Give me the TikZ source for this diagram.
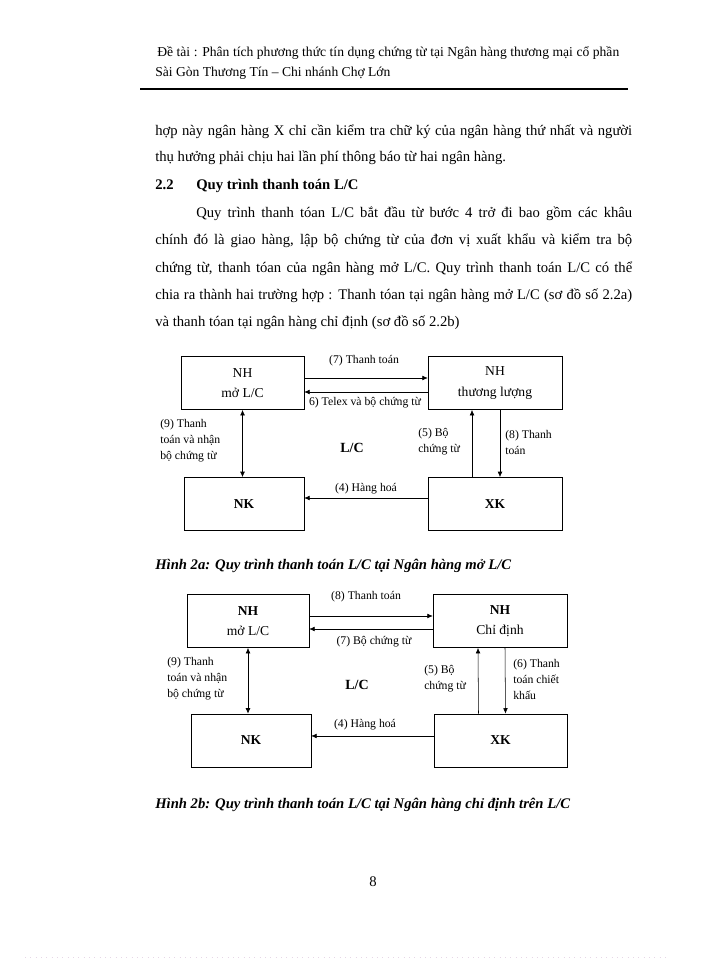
\documentclass[tikz,border=0pt]{standalone}
\usepackage{fontspec}
\setmainfont{Liberation Serif}
\usepackage{tikz}
\usetikzlibrary{arrows.meta,positioning}
\definecolor{PDot}{HTML}{E6D6E6}
\newcommand\fillline[2][357.75pt]{\makebox[#1][s]{#2}}

\begin{document}
\begin{tikzpicture}[x=0.75pt,y=-0.75pt,
  txt/.style={anchor=base west,inner sep=0pt,font=\fontsize{11}{13}\selectfont},
  hdr/.style={anchor=base west,inner sep=0pt,font=\fontsize{10.2}{12}\selectfont},
  box/.style={draw,thin,minimum height=40pt,align=center,
    font=\fontsize{10.2}{15.5}\selectfont},
  lbl/.style={inner sep=0pt,font=\fontsize{8.8}{12}\selectfont},
  side/.style={lbl,align=left,anchor=west},
  figcap/.style={txt,font=\fontsize{11}{13}\selectfont\bfseries\itshape},
  a/.style={-{Latex[length=4pt,width=3.5pt]},thin},
  ab/.style={{Latex[length=4pt,width=3.5pt]}-{Latex[length=4pt,width=3.5pt]},thin}
]
  \useasboundingbox (0,0) rectangle (700,960);
  \node[hdr] (h1) at (157,56) {\fillline[346.5pt]{Đề tài : Phân tích phương thức tín dụng chứng từ tại Ngân hàng thương mại cổ phần}};
  \node[hdr] (h2) at (155,76) {Sài Gòn Thương Tín – Chi nhánh Chợ Lớn};
  \draw[line width=0.8pt] (140,89) -- (628,89);

  \node[txt] (p1) at (155,135) {\fillline{hợp này ngân hàng X chỉ cần kiểm tra chữ ký của ngân hàng thứ nhất và người}};
  \node[txt] (p2) at (155,161) {thụ hưởng phải chịu hai lần phí thông báo từ hai ngân hàng.};
  \node[txt,font=\fontsize{11}{13}\selectfont\bfseries] (s1) at (155,189) {2.2};
  \node[txt,font=\fontsize{11}{13}\selectfont\bfseries] (s2) at (196,189) {Quy trình thanh toán L/C};
  \node[txt] (p3) at (196,217) {\fillline[327pt]{Quy trình thanh tóan L/C bắt đầu từ bước 4 trở đi bao gồm các khâu}};
  \node[txt] (p4) at (155,244) {\fillline{chính đó là giao hàng, lập bộ chứng từ của đơn vị xuất khẩu và kiểm tra bộ}};
  \node[txt] (p5) at (155,272) {\fillline{chứng từ, thanh tóan của ngân hàng mở L/C. Quy trình thanh toán L/C có thể}};
  \node[txt] (p6) at (155,299) {\fillline{chia ra thành hai trường hợp : Thanh tóan tại ngân hàng mở L/C (sơ đồ số 2.2a)}};
  \node[txt] (p7) at (155,326) {và thanh tóan tại ngân hàng chỉ định (sơ đồ số 2.2b)};

  % so do 2.2a
  \node[box,minimum width=92.25pt] (moA) at (242.5,383) {NH\\mở L/C};
  \node[box,minimum width=100.5pt] (tlA) at (495,383) {NH\\thương lượng};
  \node[box,minimum width=90pt] (nkA) at (244,504) {\bfseries NK};
  \node[box,minimum width=100.5pt] (xkA) at (495,504) {\bfseries XK};
  \draw[a] ([yshift=3.75pt]moA.east) -- ([yshift=3.75pt]tlA.west);
  \draw[a] ([yshift=-6.75pt]tlA.west) -- ([yshift=-6.75pt]moA.east);
  \draw[a] ([yshift=4.5pt]xkA.west) -- ([yshift=4.5pt]nkA.east);
  \draw[ab] (moA.south) -- (moA.south |- nkA.north);
  \draw[a] ([xshift=-17.25pt]xkA.north) -- ([xshift=-17.25pt]tlA.south);
  \draw[a] ([xshift=3.75pt]tlA.south) -- ([xshift=3.75pt]xkA.north);
  \node[lbl] (l7A) at (364,361) {(7) Thanh toán};
  \node[lbl] (l6A) at (365,403) {6) Telex và bộ chứng từ};
  \node[lbl] (l4A) at (366,489) {(4) Hàng hoá};
  \node[side] (l9A) at (160,441) {(9) Thanh\\toán và nhận\\bộ chứng từ};
  \node[side] (l5A) at (418,442) {(5) Bộ\\chứng từ};
  \node[side] (l8A) at (505,442) {(8) Thanh\\toán};
  \node[lbl,font=\fontsize{10.5}{13}\selectfont\bfseries] (lcA) at (352,448) {L/C};
  \node[figcap] (c1) at (155,569) {Hình 2a: Quy trình thanh toán L/C tại Ngân hàng mở L/C};

  % so do 2.2b
  \node[box,minimum width=91.5pt] (moB) at (248,621) {\bfseries NH\\mở L/C};
  \node[box,minimum width=100.5pt] (cdB) at (500,621) {\bfseries NH\\Chỉ định};
  \node[box,minimum width=90pt] (nkB) at (251,740.5) {\bfseries NK};
  \node[box,minimum width=99.75pt] (xkB) at (500.5,740.5) {\bfseries XK};
  \draw[a] ([yshift=3.75pt]moB.east) -- ([yshift=3.75pt]cdB.west);
  \draw[a] ([yshift=-6pt]cdB.west) -- ([yshift=-6pt]moB.east);
  \draw[a] ([yshift=3.4pt]xkB.west) -- ([yshift=3.4pt]nkB.east);
  \draw[ab] (moB.south) -- (moB.south |- nkB.north);
  \draw[a] ([xshift=-16.5pt]xkB.north) -- ([xshift=-16.5pt]cdB.south);
  \draw[a] ([xshift=3.75pt]cdB.south) -- ([xshift=3.75pt]xkB.north);
  \node[lbl] (l8B) at (366,597) {(8) Thanh toán};
  \node[lbl] (l7B) at (374,642) {(7) Bộ chứng từ};
  \node[lbl] (l4B) at (365,725) {(4) Hàng hoá};
  \node[side] (l9B) at (167,679) {(9) Thanh\\toán và nhận\\bộ chứng từ};
  \node[side] (l5B) at (424,679) {(5) Bộ\\chứng từ};
  \node[side] (l6B) at (513,679) {(6) Thanh\\toán chiết\\khấu};
  \node[lbl,font=\fontsize{10.5}{13}\selectfont\bfseries] (lcB) at (357,685) {L/C};
  \node[figcap] (c2) at (155,808) {Hình 2b: Quy trình thanh toán L/C tại Ngân hàng chỉ định trên L/C};

  \node[txt,anchor=base] (pg) at (373,886) {8};
  \draw[PDot,line width=0.6pt,dash pattern=on 0.6pt off 3.4pt] (25,957) -- (670,957);
\end{tikzpicture}
\end{document}
